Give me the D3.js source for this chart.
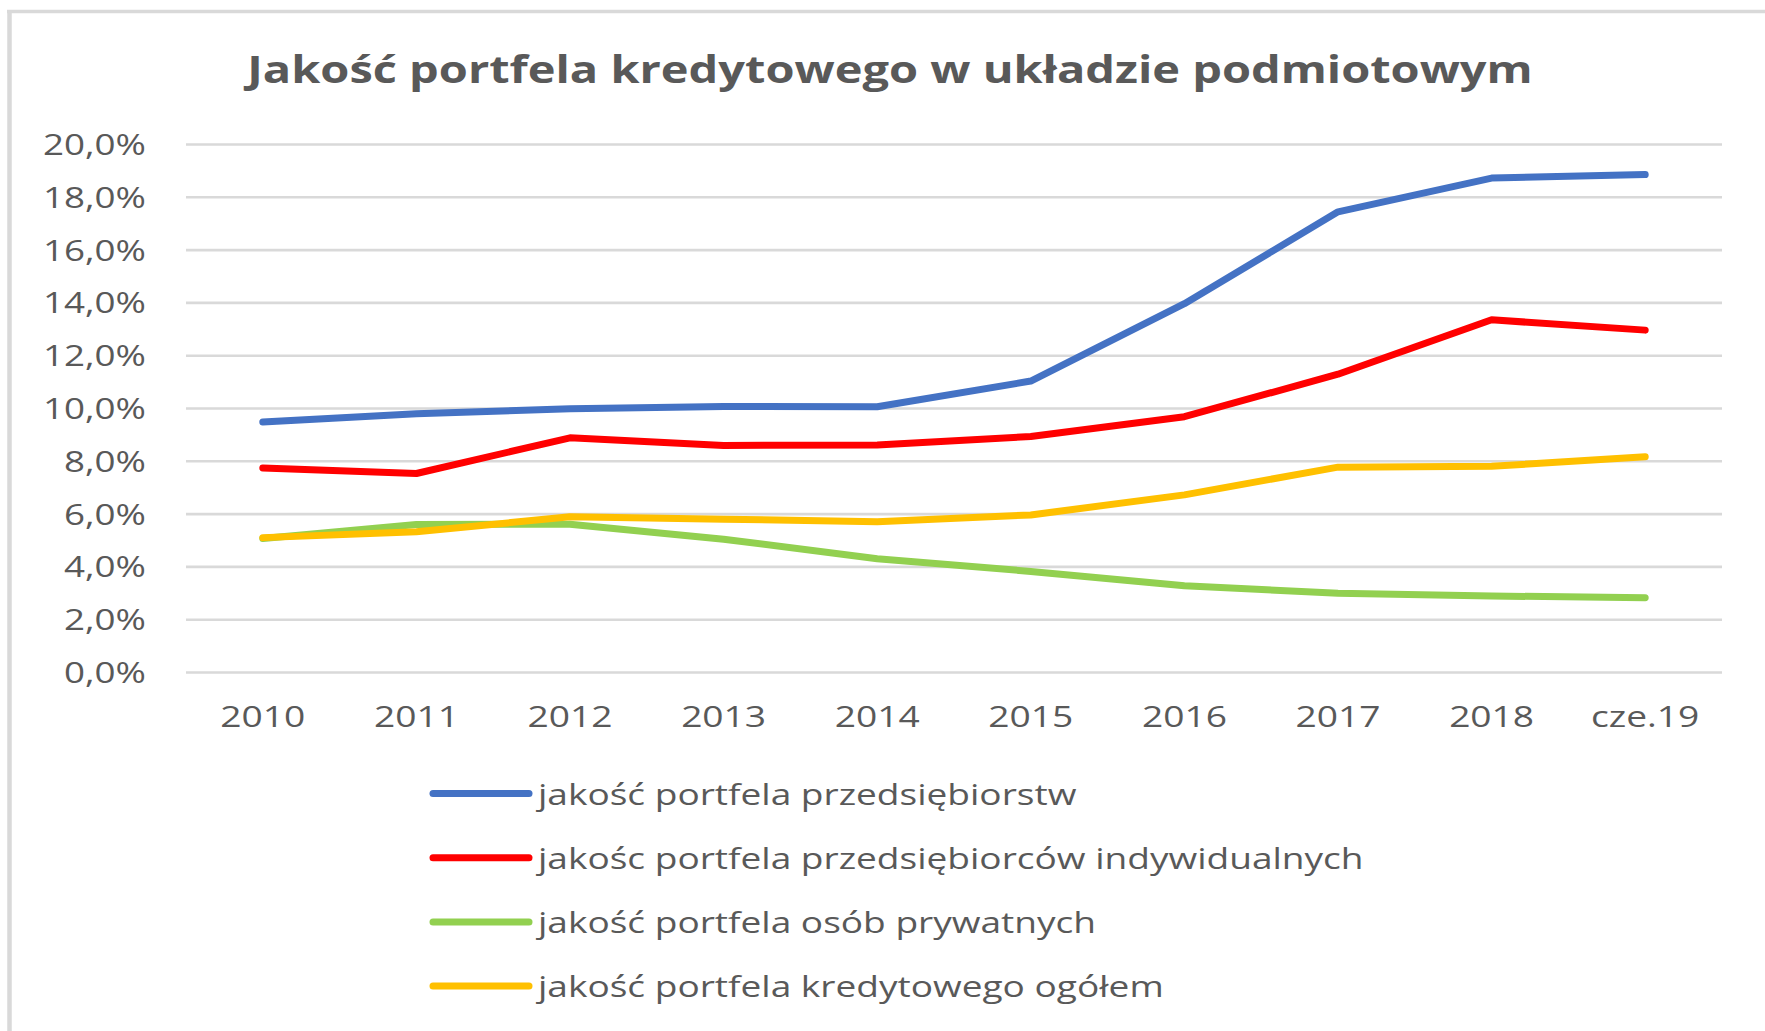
<!DOCTYPE html>
<html>
<head>
<meta charset="utf-8">
<script src="https://cdn.jsdelivr.net/npm/d3@7"></script>
<style>
  html, body { margin: 0; padding: 0; background: #fff; }
  svg { display: block; }
  text { font-family: "Open Sans", "Noto Sans", sans-serif; fill: #595959; }
</style>
</head>
<body>
<svg id="chart" width="1765" height="1031"></svg>
<script>
// ---- data ----
const title = "Jakość portfela kredytowego w układzie podmiotowym";
const categories = ["2010", "2011", "2012", "2013", "2014", "2015", "2016", "2017", "2018", "cze.19"];
const yTicks = [0, 2, 4, 6, 8, 10, 12, 14, 16, 18, 20];
const seriesNames = [
  "jakość portfela przedsiębiorstw",
  "jakośc portfela przedsiębiorców indywidualnych",
  "jakość portfela osób prywatnych",
  "jakość portfela kredytowego ogółem"
];
const przedsiebiorstw = [9.47, 9.78, 9.97, 10.06, 10.05, 11.02, 13.95, 17.43, 18.71, 18.84];
const przedsiebiorcow = [7.73, 7.52, 8.87, 8.58, 8.60, 8.92, 9.67, 11.28, 13.34, 12.95];
const prywatnych      = [5.06, 5.59, 5.60, 5.03, 4.29, 3.81, 3.27, 2.98, 2.88, 2.81];
const ogolem          = [5.09, 5.31, 5.88, 5.79, 5.69, 5.95, 6.71, 7.76, 7.79, 8.15];
const colors = ["#4472C4", "#FF0000", "#92D050", "#FFC000"];

const seriesValues = [przedsiebiorstw, przedsiebiorcow, prywatnych, ogolem];
// drawing order: green and yellow beneath? Yellow drawn over green in reference
const drawOrder = [2, 3, 1, 0];

// ---- layout ----
const svg = d3.select("#chart");
const plot = { left: 186, right: 1722, top: 144, bottom: 672 };

// frame
svg.append("line").attr("x1", 7).attr("x2", 1765).attr("y1", 11.5).attr("y2", 11.5)
  .attr("stroke", "#d9d9d9").attr("stroke-width", 3.5);
svg.append("line").attr("x1", 9.5).attr("x2", 9.5).attr("y1", 10).attr("y2", 1031)
  .attr("stroke", "#d9d9d9").attr("stroke-width", 4.5);

const x = d3.scaleBand().domain(categories).range([plot.left, plot.right]);
const y = d3.scaleLinear().domain([0, 20]).range([plot.bottom, plot.top]);

// stretch helper: scale a group of texts horizontally so a reference text gets a target width
function stretch(sel, refNode, targetW) {
  const w = refNode.getComputedTextLength();
  const k = targetW / w;
  sel.each(function() {
    const t = d3.select(this);
    const tx = +t.attr("data-x"), ty = +t.attr("data-y");
    t.attr("transform", `translate(${tx},${ty}) scale(${k},1)`);
  });
}

// title
const tTitle = svg.append("text")
  .attr("data-x", 890).attr("data-y", 83)
  .attr("text-anchor", "middle")
  .attr("font-size", 37).attr("font-weight", "bold")
  .text(title);
stretch(tTitle, tTitle.node(), 1286);

// gridlines via axis
const yAxis = d3.axisLeft(y).tickValues(yTicks)
  .tickSize(-(plot.right - plot.left))
  .tickFormat(d => d3.format(".1f")(d).replace(".", ",") + "%");
const gy = svg.append("g").attr("transform", `translate(${plot.left},0)`).call(yAxis);
gy.select(".domain").remove();
gy.selectAll(".tick line").attr("stroke", "#d9d9d9").attr("stroke-width", 2.6);
gy.selectAll(".tick text").remove();

// y tick labels
const yLab = svg.append("g").selectAll("text").data(yTicks).join("text")
  .attr("data-x", 146).attr("data-y", d => y(d) + 11)
  .attr("text-anchor", "end").attr("font-size", 30)
  .text(d => d3.format(".1f")(d).replace(".", ",") + "%");
stretch(yLab, yLab.nodes()[10], 103);

// x tick labels
const xLab = svg.append("g").selectAll("text").data(categories).join("text")
  .attr("data-x", d => x(d) + x.bandwidth() / 2).attr("data-y", 727)
  .attr("text-anchor", "middle").attr("font-size", 30)
  .text(d => d);
stretch(xLab, xLab.nodes()[0], 85);

// lines
const line = d3.line()
  .x((d, i) => x(categories[i]) + x.bandwidth() / 2)
  .y(d => y(d));
drawOrder.forEach(i => {
  svg.append("path")
    .datum(seriesValues[i])
    .attr("d", line)
    .attr("fill", "none")
    .attr("stroke", colors[i])
    .attr("stroke-width", 7)
    .attr("stroke-linecap", "round")
    .attr("stroke-linejoin", "round");
});

// legend
const legendRows = [793.6, 857.8, 921.9, 986.1];
const lg = svg.append("g");
seriesNames.forEach((name, i) => {
  lg.append("line")
    .attr("x1", 433).attr("x2", 529)
    .attr("y1", legendRows[i]).attr("y2", legendRows[i])
    .attr("stroke", colors[i]).attr("stroke-width", 7)
    .attr("stroke-linecap", "round");
});
const legTexts = lg.selectAll("text.leg").data(seriesNames).join("text")
  .attr("class", "leg")
  .attr("data-x", 538).attr("data-y", (d, i) => legendRows[i] + 11)
  .attr("font-size", 30)
  .text(d => d);
stretch(legTexts, legTexts.nodes()[1], 826);
</script>
</body>
</html>
